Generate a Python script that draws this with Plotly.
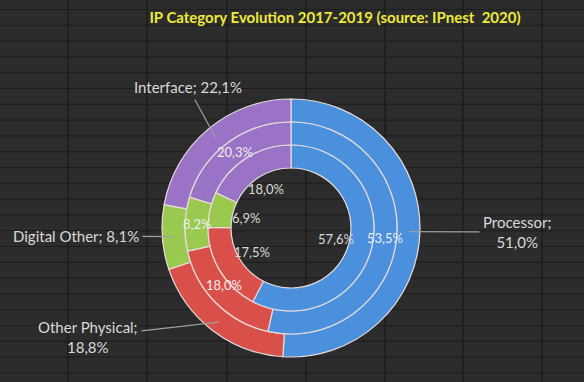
import math
import plotly.graph_objects as go

# ---------------- data ----------------
categories = ["Processor", "Other Physical", "Digital Other", "Interface"]
share_2017 = [57.6, 17.5, 6.9, 18.0]   # inner ring
share_2018 = [53.5, 18.0, 8.2, 20.3]   # middle ring
share_2019 = [51.0, 18.8, 8.1, 22.1]   # outer ring
title_text = "IP Category Evolution 2017-2019 (source: IPnest  2020)"

# ---------------- style / geometry ----------------
W, H = 584, 382
cx, cy = 291, 228
radii = [129, 106, 83, 60]          # outer edge, ring boundaries, hole edge
colors = ["#4b90dd", "#d9504b", "#99c94f", "#9a72c6"]
bg = "#2c2c2c"
grid_col = "#1d1d1d"
label_col = "#d9d9d9"
FONT = "Lato"


def fmt(v):
    return f"{v:.1f}".replace(".", ",") + "%"


def domain(r):
    return dict(x=[(cx - r) / W, (cx + r) / W],
                y=[(H - cy - r) / H, (H - cy + r) / H])


def mid_points(values, r):
    tot = sum(values)
    cum = 0.0
    pts = []
    for v in values:
        th = 2 * math.pi * (cum + v / 2) / tot
        cum += v
        px = cx + r * math.sin(th)
        py = cy - r * math.cos(th)
        pts.append((px, py))
    return pts


fig = go.Figure()
rings = [(share_2019, radii[0], radii[1]),
         (share_2018, radii[1], radii[2]),
         (share_2017, radii[2], radii[3])]
for vals, ro, ri in rings:
    fig.add_trace(go.Pie(
        labels=categories, values=vals, sort=False, direction="clockwise",
        rotation=0, hole=ri / ro, domain=domain(ro), textinfo="none",
        marker=dict(colors=colors, line=dict(color="#e6dcdc", width=1.2)),
        showlegend=False, hoverinfo="label+percent",
    ))

annotations = []
# outer ring labels with leader lines
outer_text_pos = [(517, 232), (88, 337), (76, 236), (188, 87)]
outer_texts = [
    f"Processor;<br>{fmt(share_2019[0])}",
    f"Other Physical;<br>{fmt(share_2019[1])}",
    f"Digital Other; {fmt(share_2019[2])}",
    f"Interface; {fmt(share_2019[3])}",
]
r_mid_outer = (radii[0] + radii[1]) / 2 + 1
for (px, py), (tx, ty), txt in zip(mid_points(share_2019, r_mid_outer),
                                    outer_text_pos, outer_texts):
    annotations.append(dict(
        x=px / W, y=1 - py / H, xref="paper", yref="paper",
        text=txt, showarrow=True, arrowhead=0, arrowwidth=1.2,
        arrowcolor="#a0a0a0", ax=tx - px, ay=ty - py, borderpad=3,
        font=dict(family=FONT, size=15, color=label_col), align="center",
    ))

# middle ring labels on the ring
for (px, py), v in zip(mid_points(share_2018, (radii[1] + radii[2]) / 2), share_2018):
    annotations.append(dict(
        x=px / W, y=1 - py / H, xref="paper", yref="paper", text=fmt(v),
        showarrow=False, font=dict(family=FONT, size=13, color="#eeeeee"),
    ))

# inner ring labels inside the hole
for (px, py), v in zip(mid_points(share_2017, 46), share_2017):
    annotations.append(dict(
        x=px / W, y=1 - py / H, xref="paper", yref="paper", text=fmt(v),
        showarrow=False, font=dict(family=FONT, size=13, color=label_col),
    ))

# spreadsheet-like grid background
shapes = []
for gx in [68, 147, 227, 306, 385, 463, 542]:
    shapes.append(dict(type="line", xref="paper", yref="paper",
                       x0=gx / W, x1=gx / W, y0=0, y1=1, layer="below",
                       line=dict(color=grid_col, width=1.5)))
gy = 9.5
while gy < H:
    shapes.append(dict(type="line", xref="paper", yref="paper",
                       x0=0, x1=1, y0=1 - gy / H, y1=1 - gy / H, layer="below",
                       line=dict(color=grid_col, width=1)))
    gy += 15.8

fig.update_layout(
    width=W, height=H,
    margin=dict(l=0, r=0, t=0, b=0),
    paper_bgcolor=bg, plot_bgcolor=bg,
    title=dict(text=f"<b>{title_text}</b>", x=335 / W, y=1 - 18 / H,
               xanchor="center", yanchor="middle", xref="paper", yref="paper",
               font=dict(family=FONT, size=15, color="#eeea3a")),
    annotations=annotations, shapes=shapes,
)

fig.write_html(
    "out.html",
    config={"displayModeBar": False},
    post_script="document.body.style.margin='0px';"
                "document.body.style.background='" + bg + "';",
)
